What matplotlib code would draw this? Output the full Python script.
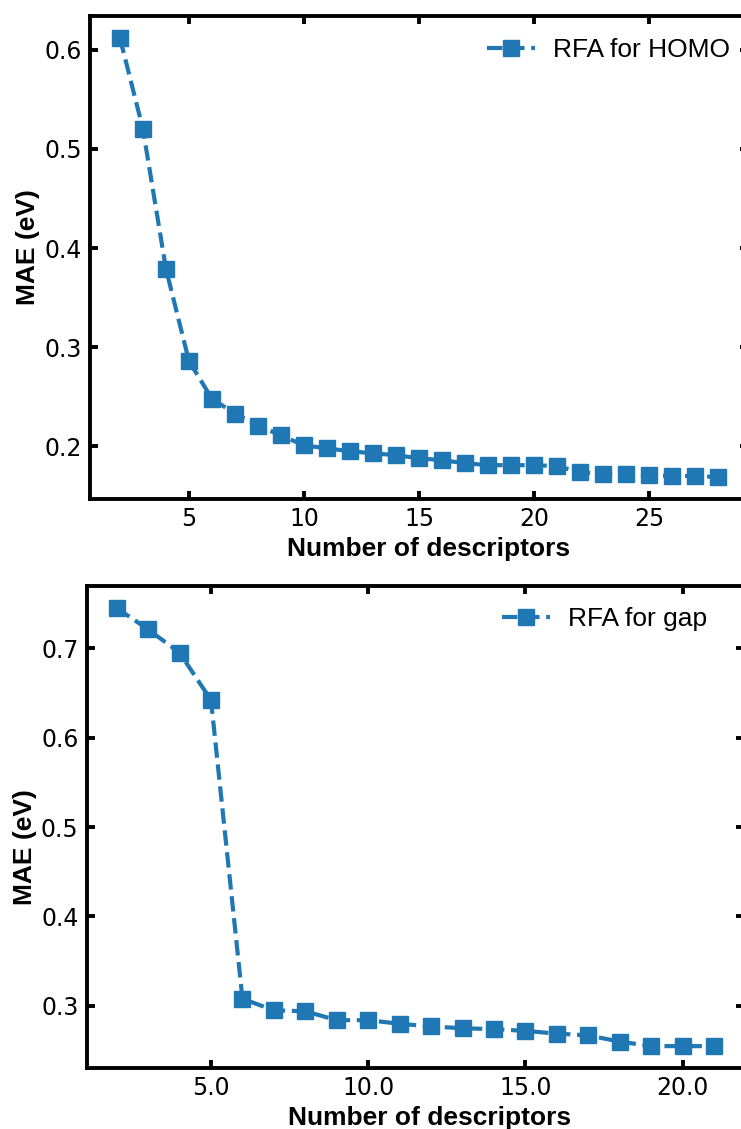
import matplotlib
matplotlib.use("Agg")
import matplotlib.pyplot as plt

# MAE vs number of descriptors for the two RFA targets
n_homo = list(range(2, 29))
mae_homo = [0.612, 0.520, 0.379, 0.286, 0.248, 0.233, 0.221, 0.211, 0.201,
            0.198, 0.195, 0.193, 0.191, 0.188, 0.186, 0.183, 0.181, 0.181,
            0.181, 0.180, 0.174, 0.172, 0.172, 0.171, 0.170, 0.170, 0.169]

n_gap = list(range(2, 22))
mae_gap = [0.745, 0.721, 0.695, 0.642, 0.308, 0.295, 0.294, 0.284, 0.284,
           0.280, 0.277, 0.275, 0.274, 0.272, 0.269, 0.267, 0.260, 0.255,
           0.255, 0.255]

homo_xticks = [5, 10, 15, 20, 25]
homo_yticks = [0.2, 0.3, 0.4, 0.5, 0.6]
gap_xticks = [5.0, 10.0, 15.0, 20.0]
gap_yticks = [0.3, 0.4, 0.5, 0.6, 0.7]

blue = "#1f77b4"
label_font = dict(family="Liberation Sans", fontweight="bold", fontsize=19)
legend_font = dict(family="Liberation Sans", size=19)

fig = plt.figure(figsize=(7.41, 11.29), dpi=100)
ax1 = fig.add_axes([0.1215, 0.558, 0.888, 0.4278])
ax2 = fig.add_axes([0.1171, 0.054, 0.887, 0.4269])


def style(ax):
    for s in ax.spines.values():
        s.set_linewidth(2.8)
    ax.tick_params(direction="in", length=6, width=2.8, top=True, right=True,
                   labelsize=17, pad=6)


ax1.plot(n_homo, mae_homo, "--s", color=blue, lw=3, ms=12,
         label="RFA for HOMO")
ax1.set_xticks(homo_xticks)
ax1.set_yticks(homo_yticks)
ax1.set_xlabel("Number of descriptors", labelpad=4, **label_font)
ax1.set_ylabel("MAE (eV)", labelpad=3, **label_font)
ax1.xaxis.label.set_x(0.515)
ax1.yaxis.label.set_y(0.522)
style(ax1)
ax1.legend(loc="upper right", bbox_to_anchor=(1.005, 0.998), frameon=False,
           prop=legend_font, handlelength=1.8, handletextpad=0.7,
           borderaxespad=0.4)

ax2.plot(n_gap, mae_gap, "--s", color=blue, lw=3, ms=12,
         label="RFA for gap")
ax2.set_xticks(gap_xticks)
ax2.set_xticklabels([f"{v:.1f}" for v in gap_xticks])
ax2.set_yticks(gap_yticks)
ax2.set_xlabel("Number of descriptors", labelpad=4, **label_font)
ax2.set_ylabel("MAE (eV)", labelpad=3, **label_font)
ax2.xaxis.label.set_x(0.522)
ax2.yaxis.label.set_y(0.4585)
style(ax2)
ax2.legend(loc="upper right", bbox_to_anchor=(0.976, 1.0), frameon=False,
           prop=legend_font, handlelength=1.8, handletextpad=0.7,
           borderaxespad=0.4)

fig.savefig("out.png", dpi=100)
